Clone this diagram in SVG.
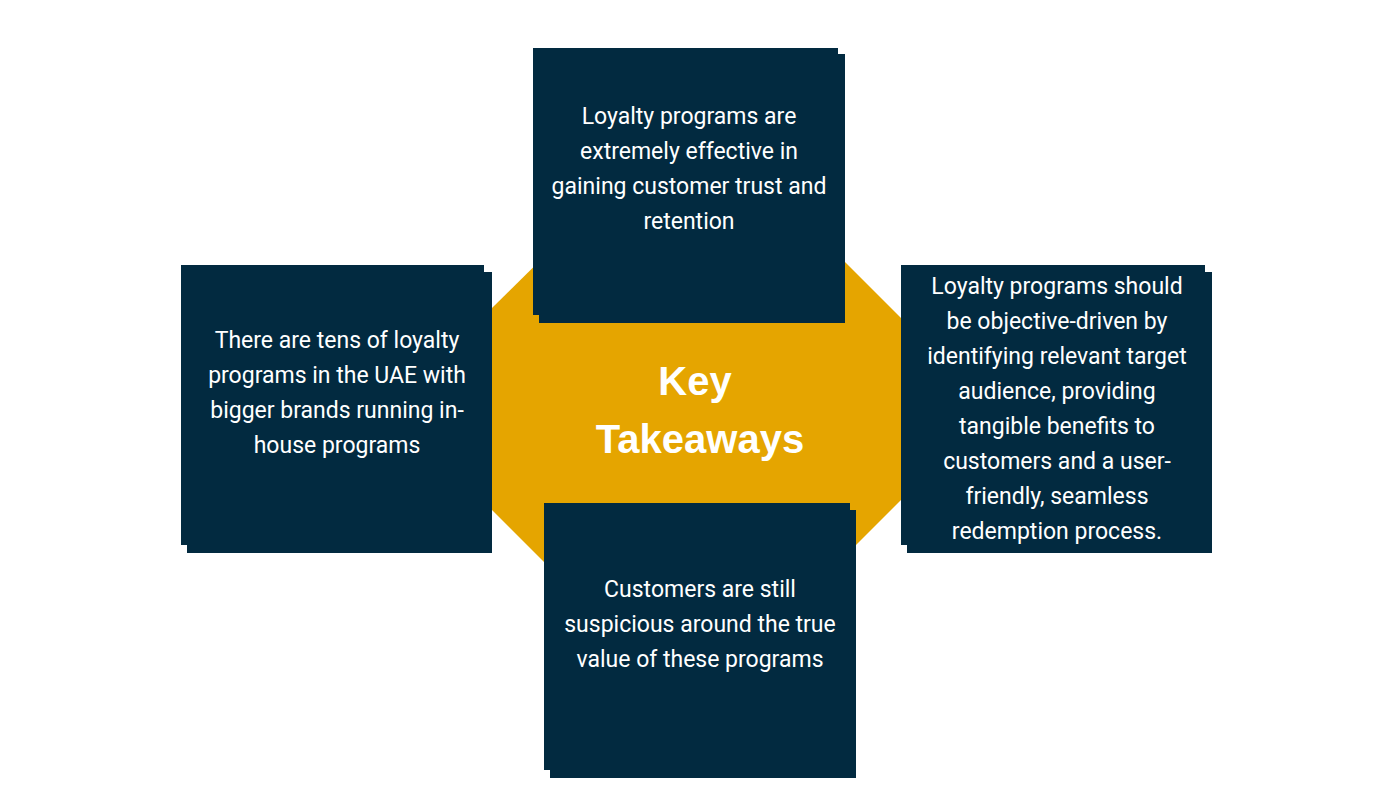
<svg xmlns="http://www.w3.org/2000/svg" width="1400" height="788" viewBox="0 0 1400 788">
<style>
.b{fill:#022a40}
.t{font-family:Roboto,"Liberation Sans",sans-serif;font-size:23px;fill:#fff;text-anchor:middle}
.k{font-family:"Liberation Sans",Arial,sans-serif;font-size:40px;font-weight:bold;fill:#fff;text-anchor:middle}
</style>
<rect width="1400" height="788" fill="#fff"/>
<g id="center">
<polygon points="492,308 571,230 813,230 901,318 901,500 823,578 560,578 492,510" fill="#e5a500"/>
<text class="k" x="695" y="395">Key</text>
<text class="k" x="700" y="453">Takeaways</text>
</g>
<g id="connectors"></g>
<g id="top">
<rect class="b" x="539" y="54" width="306" height="269"/>
<rect class="b" x="533" y="48" width="305" height="267"/>
<text class="t" x="689" y="124">Loyalty programs are</text>
<text class="t" x="689" y="159">extremely effective in</text>
<text class="t" x="689" y="194">gaining customer trust and</text>
<text class="t" x="689" y="229">retention</text>
</g>
<g id="left">
<rect class="b" x="187" y="272" width="305" height="281"/>
<rect class="b" x="181" y="265" width="303" height="280"/>
<text class="t" x="337" y="348">There are tens of loyalty</text>
<text class="t" x="337" y="383">programs in the UAE with</text>
<text class="t" x="337" y="418">bigger brands running in-</text>
<text class="t" x="337" y="453">house programs</text>
</g>
<g id="right">
<rect class="b" x="907" y="272" width="305" height="281"/>
<rect class="b" x="901" y="265" width="304" height="280"/>
<text class="t" x="1057" y="294">Loyalty programs should</text>
<text class="t" x="1057" y="329">be objective-driven by</text>
<text class="t" x="1057" y="364">identifying relevant target</text>
<text class="t" x="1057" y="399">audience, providing</text>
<text class="t" x="1057" y="434">tangible benefits to</text>
<text class="t" x="1057" y="469">customers and a user-</text>
<text class="t" x="1057" y="504">friendly, seamless</text>
<text class="t" x="1057" y="539">redemption process.</text>
</g>
<g id="bottom">
<rect class="b" x="550" y="510" width="306" height="268"/>
<rect class="b" x="544" y="503" width="306" height="267"/>
<text class="t" x="700" y="597">Customers are still</text>
<text class="t" x="700" y="632">suspicious around the true</text>
<text class="t" x="700" y="667">value of these programs</text>
</g>
</svg>
